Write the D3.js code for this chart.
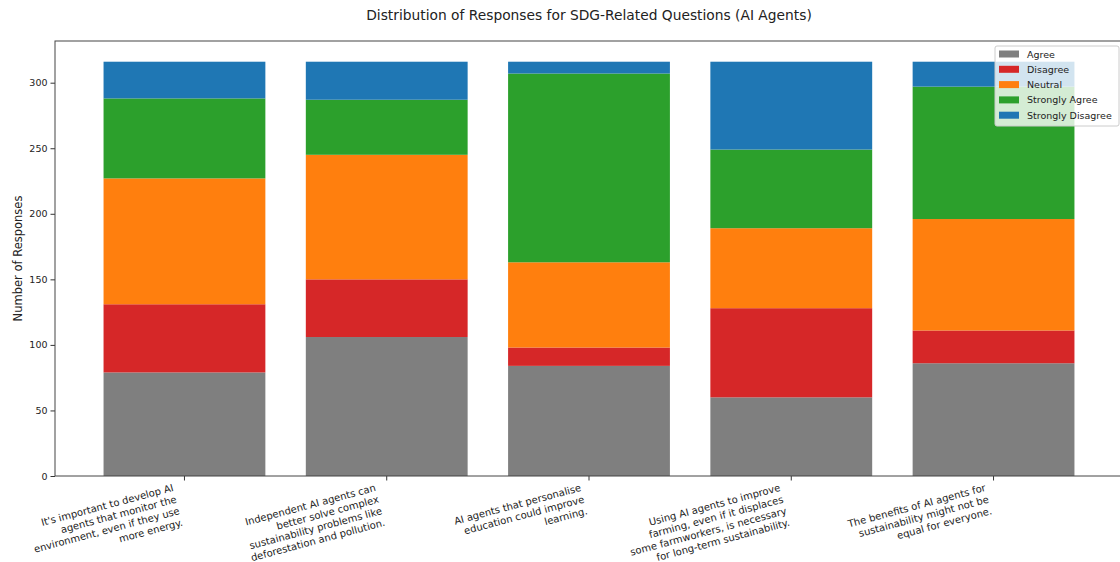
<!DOCTYPE html>
<html>
<head>
<meta charset="utf-8">
<script src="https://cdn.jsdelivr.net/npm/d3@7"></script>
<style>
  body { margin: 0; background: #fff; }
  svg { display: block; font-family: "DejaVu Sans", sans-serif; }
</style>
</head>
<body>
<svg id="chart" width="1120" height="562"></svg>
<script>
// dados
const questions = [
  ["It's important to develop AI", "agents that monitor the", "environment, even if they use", "more energy."],
  ["Independent AI agents can", "better solve complex", "sustainability problems like", "deforestation and pollution."],
  ["AI agents that personalise", "education could improve", "learning."],
  ["Using AI agents to improve", "farming, even if it displaces", "some farmworkers, is necessary", "for long-term sustainability."],
  ["The benefits of AI agents for", "sustainability might not be", "equal for everyone."]
];
const responses = ["Agree", "Disagree", "Neutral", "Strongly Agree", "Strongly Disagree"];
const agree = [79, 106, 84, 60, 86];
const disagree = [52, 44, 14, 68, 25];
const neutral = [96, 95, 65, 61, 85];
const stronglyAgree = [61, 42, 144, 60, 101];
const stronglyDisagree = [28, 29, 9, 67, 19];
const yTicks = [0, 50, 100, 150, 200, 250, 300];

const colors = ["#7f7f7f", "#d62728", "#ff7f0e", "#2ca02c", "#1f77b4"];

const svg = d3.select("#chart");
const m = { left: 55, right: 1123, top: 41, bottom: 476 };

// tabela para o stack
const rows = questions.map((q, i) => ({
  idx: i,
  "Agree": agree[i],
  "Disagree": disagree[i],
  "Neutral": neutral[i],
  "Strongly Agree": stronglyAgree[i],
  "Strongly Disagree": stronglyDisagree[i]
}));
const series = d3.stack().keys(responses)(rows);
const maxTotal = d3.max(series[series.length - 1], d => d[1]);

const x = d3.scaleBand()
  .domain(questions.map((q, i) => i))
  .range([m.left, m.right])
  .paddingInner(0.2)
  .paddingOuter(0.24);

const y = d3.scaleLinear()
  .domain([0, maxTotal * 1.05])
  .range([m.bottom, m.top]);

// barras
series.forEach((s, k) => {
  svg.append("g")
    .attr("fill", colors[k])
    .selectAll("rect")
    .data(s)
    .join("rect")
    .attr("x", d => x(d.data.idx))
    .attr("width", x.bandwidth())
    .attr("y", d => y(d[1]))
    .attr("height", d => y(d[0]) - y(d[1]));
});

// eixo y
const yAxis = svg.append("g")
  .attr("transform", `translate(${m.left},0)`)
  .call(d3.axisLeft(y).tickValues(yTicks).tickSize(4.5).tickPadding(3).tickFormat(d3.format("d")));
yAxis.select(".domain").remove();
yAxis.selectAll("line").attr("stroke", "#333");
yAxis.selectAll("text").attr("font-size", "9.5px").attr("fill", "#222")
  .attr("font-family", "DejaVu Sans");

// eixo x (só os ticks)
const xAxis = svg.append("g")
  .attr("transform", `translate(0,${m.bottom})`)
  .call(d3.axisBottom(x).tickSize(4.5).tickFormat(""));
xAxis.select(".domain").remove();
xAxis.selectAll("line").attr("stroke", "#333");

// moldura
svg.append("rect")
  .attr("x", m.left).attr("y", m.top)
  .attr("width", m.right - m.left).attr("height", m.bottom - m.top)
  .attr("fill", "none").attr("stroke", "#444").attr("stroke-width", 1);

// rótulos das perguntas, rodados 15 graus
const fs = 10, lh = fs * 1.2;
questions.forEach((lines, i) => {
  const cx = x(i) + x.bandwidth() / 2;
  const H = lines.length * lh;
  const g = svg.append("g")
    .attr("transform", `translate(${cx - Math.sin(15 * Math.PI / 180) * H},483) rotate(-15)`);
  lines.forEach((t, j) => {
    g.append("text")
      .attr("x", 0)
      .attr("y", j * lh + fs * 0.8)
      .attr("text-anchor", "end")
      .attr("font-size", fs + "px")
      .attr("fill", "#222")
      .text(t);
  });
});

// título e eixo
svg.append("text")
  .attr("x", (m.left + m.right) / 2)
  .attr("y", 20)
  .attr("text-anchor", "middle")
  .attr("font-size", "13.8px")
  .attr("fill", "#222")
  .text("Distribution of Responses for SDG-Related Questions (AI Agents)");

svg.append("text")
  .attr("transform", `translate(22,${(m.top + m.bottom) / 2}) rotate(-90)`)
  .attr("text-anchor", "middle")
  .attr("font-size", "11.5px")
  .attr("fill", "#222")
  .text("Number of Responses");

// legenda
const leg = svg.append("g").attr("transform", "translate(995,46)");
leg.append("rect")
  .attr("width", 124).attr("height", 80)
  .attr("rx", 2)
  .attr("fill", "white").attr("fill-opacity", 0.8)
  .attr("stroke", "#ccc");
responses.forEach((r, k) => {
  const ry = 8 + k * 15.3;
  leg.append("rect")
    .attr("x", 4).attr("y", ry - 4 + 0.5)
    .attr("width", 20).attr("height", 7)
    .attr("fill", colors[k]);
  leg.append("text")
    .attr("x", 32).attr("y", ry + 3.5)
    .attr("font-size", "9.5px")
    .attr("fill", "#222")
    .text(r);
});
</script>
</body>
</html>
